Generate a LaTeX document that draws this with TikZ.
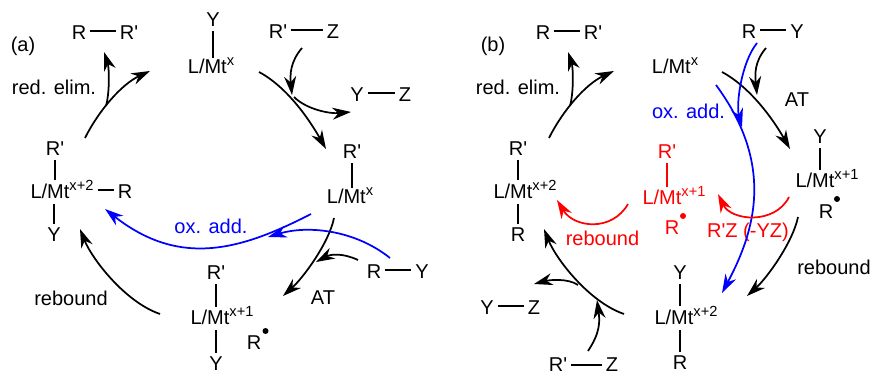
\documentclass[tikz,border=0pt]{standalone}
\usepackage{fontspec}
\setmainfont{Liberation Sans}
\usetikzlibrary{arrows.meta}
\definecolor{oxblue}{RGB}{0,0,255}
\definecolor{radred}{RGB}{255,0,0}
\newcommand{\Mt}[1]{L/Mt\raisebox{6pt}{\fontsize{11}{11}\selectfont #1}}
\newcommand{\Rp}{R\textquotesingle}
\tikzset{
arr/.style={-{Stealth[length=14pt,width=9pt,inset=4.5pt]},line width=1.3pt},
bond/.style={line width=1.1pt},
hbond/.style={bond,transform canvas={yshift=1.5pt}},
metal/.style={inner ysep=0pt,text depth=3.5pt},
raddot/.style={circle,fill,inner sep=0pt,minimum size=4.5pt,anchor=center}
}
\begin{document}
\begin{tikzpicture}[
x=0.75pt,y=-0.75pt,
every node/.style={
font=\fontsize{15}{17}\selectfont,
anchor=base,
inner sep=3pt
}
]
\useasboundingbox (0,0) rectangle (871,377);

% panel (a)
\node (alabel) at (23,52) {(a)};
\node (aRa) at (79,40) {R};
\node (aRb) at (129,40) {\Rp};
\node (aredelim) at (54,95) {red. elim.};

\node (aYtop) at (213,27) {Y};
\node[metal] (aMtTop) at (211,74) {\Mt{x}};

\node (aRZr) at (278,39) {\Rp};
\node (aRZz) at (333,39) {Z};
\node (aYZy) at (357,102) {Y};
\node (aYZz) at (405,102) {Z};

\node (aRright) at (352,159) {\Rp};
\node[metal] (aMtRight) at (350,204) {\Mt{x}};

\node (aRleft) at (55,156) {\Rp};
\node[metal] (aMtLeft) at (62,199) {\Mt{x+2}};
\node (aRmid) at (125,199) {R};
\node (aYleft) at (54,242) {Y};

\node (aRbot) at (216,280) {\Rp};
\node[metal] (aMtBot) at (222,325) {\Mt{x+1}};
\node (aYbot) at (216,371) {Y};
\node (aRrad) at (254,350) {R};
\node[raddot] (aRdot) at (265.5,331) {};

\node (aRYr) at (374,279) {R};
\node (aRYy) at (422,279) {Y};
\node (aAT) at (323,305) {AT};
\node (arebound) at (71,306) {rebound};
\node[text=oxblue] (aoxadd) at (211,234) {ox. add.};

\draw[hbond] (aRa) -- (aRb);
\draw[bond] (aYtop) -- (aYtop |- aMtTop.north);
\draw[hbond] (aRZr) -- (aRZz);
\draw[hbond] (aYZy) -- (aYZz);
\draw[bond] (aRright) -- (aRright |- aMtRight.north);
\draw[bond] (aRleft) -- (aRleft |- aMtLeft.north);
\draw[hbond] (aMtLeft.east |- aRmid) -- (aRmid);
\draw[bond] (aYleft |- aMtLeft.south) -- (aYleft);
\draw[bond] (aRbot) -- (aRbot |- aMtBot.north);
\draw[bond] (aYbot |- aMtBot.south) -- (aYbot);
\draw[hbond] (aRYr) -- (aRYy);

\coordinate (aA) at (85,138);
\coordinate (aB) at (150,71);
\coordinate (aC) at (106,106);
\coordinate (aD) at (104,52);
\coordinate (aE) at (259,72);
\coordinate (aF) at (326,149);
\coordinate (aG) at (302,48);
\coordinate (aH) at (292,95);
\coordinate (aI) at (294,97);
\coordinate (aJ) at (351,112);
\coordinate (aK) at (334,218);
\coordinate (aL) at (283,296);
\coordinate (aM) at (358,260);
\coordinate (aN) at (316,262);
\coordinate (aO) at (160,314);
\coordinate (aP) at (80,229);
\coordinate (aQ) at (311,214);
\coordinate (aS) at (105,209);
\coordinate (aT) at (390,258);
\coordinate (aU) at (268,237);

\draw[arr] (aA) .. controls +(14,-28) and +(-28,13) .. (aB);
\draw[arr] (aC) .. controls +(4,-15) and +(5,15) .. (aD);
\draw[arr] (aE) .. controls +(28,15) and +(-17,-30) .. (aF);
\draw[arr] (aG) .. controls +(-12,14) and +(-2,-20) .. (aH);
\draw[arr] (aI) .. controls +(12,12) and +(-22,2) .. (aJ);
\draw[arr] (aK) .. controls +(-5,25) and +(20,-18) .. (aL);
\draw[arr] (aM) .. controls +(-15,-7) and +(15,-8) .. (aN);
\draw[arr] (aO) .. controls +(-35,-12) and +(12,30) .. (aP);
\draw[arr,oxblue] (aQ) .. controls +(-70,36) and +(75,59) .. (aS);
\draw[arr,oxblue] (aT) .. controls +(-35,-28) and +(40,-12) .. (aU);

% panel (b)
\node (blabel) at (493,52) {(b)};
\node (bRa) at (543,40) {R};
\node (bRb) at (593,40) {\Rp};
\node (bredelim) at (518,95) {red. elim.};

\node[metal] (bMtTop) at (675,74) {\Mt{x}};
\node (bRYr) at (749,39) {R};
\node (bRYy) at (797,39) {Y};
\node (bAT) at (797,107) {AT};
\node[text=oxblue] (boxadd) at (688.5,119) {ox. add.};

\node (bYright) at (820,144) {Y};
\node[metal] (bMtRight) at (827,188) {\Mt{x+1}};
\node (bRrad) at (826,219) {R};
\node[raddot] (bRdot) at (837,199) {};
\node (brebound) at (834,275) {rebound};

\node[text=radred] (bRred) at (667,159) {\Rp};
\node[metal,text=radred] (bMtRed) at (674,205) {\Mt{x+1}};
\node[text=radred] (bRradred) at (672,235) {R};
\node[raddot,radred] (bRdotred) at (683,216) {};
\node[text=radred] (breboundred) at (602.5,246) {rebound};
\node[text=radred] (bRZred) at (748,238) {\Rp Z (-YZ)};

\node (bRleft) at (518,156) {\Rp};
\node[metal] (bMtLeft) at (525,199) {\Mt{x+2}};
\node (bRlow) at (518,242) {R};

\node (bYbot) at (680,280) {Y};
\node[metal] (bMtBot) at (686,325) {\Mt{x+2}};
\node (bRbot) at (680,370) {R};

\node (bYZy) at (487,315) {Y};
\node (bYZz) at (534,315) {Z};
\node (bRZr) at (558,372) {\Rp};
\node (bRZz) at (612,372) {Z};

\draw[hbond] (bRa) -- (bRb);
\draw[hbond] (bRYr) -- (bRYy);
\draw[bond] (bYright) -- (bYright |- bMtRight.north);
\draw[bond,radred] (bRred) -- (bRred |- bMtRed.north);
\draw[bond] (bRleft) -- (bRleft |- bMtLeft.north);
\draw[bond] (bRlow |- bMtLeft.south) -- (bRlow);
\draw[bond] (bYbot) -- (bYbot |- bMtBot.north);
\draw[bond] (bRbot |- bMtBot.south) -- (bRbot);
\draw[hbond] (bYZy) -- (bYZz);
\draw[bond] (bRZr) -- (bRZz);

\coordinate (bA) at (549,138);
\coordinate (bB) at (614,71);
\coordinate (bC) at (570,106);
\coordinate (bD) at (568,52);
\coordinate (bE) at (722,72);
\coordinate (bF) at (790,149);
\coordinate (bG) at (766,48);
\coordinate (bH) at (757,95);
\coordinate (bK) at (798,217);
\coordinate (bL) at (747,296);
\coordinate (bO) at (624,314);
\coordinate (bP) at (544,229);
\coordinate (bQ) at (578,285);
\coordinate (bS) at (534,284);
\coordinate (bT) at (588,351);
\coordinate (bU) at (597,300);
\coordinate (bV) at (757,43);
\coordinate (bW) at (742,127);
\coordinate (bX) at (716,85);
\coordinate (bY) at (722,293);
\coordinate (bZ) at (789,197);
\coordinate (bAa) at (718,194);
\coordinate (bAb) at (628,204);
\coordinate (bAc) at (557,200);

\draw[arr] (bA) .. controls +(14,-28) and +(-28,13) .. (bB);
\draw[arr] (bC) .. controls +(4,-15) and +(5,15) .. (bD);
\draw[arr] (bE) .. controls +(28,15) and +(-17,-30) .. (bF);
\draw[arr] (bG) .. controls +(-12,14) and +(-2,-20) .. (bH);
\draw[arr] (bK) .. controls +(-5,25) and +(20,-18) .. (bL);
\draw[arr] (bO) .. controls +(-35,-12) and +(12,30) .. (bP);
\draw[arr] (bQ) .. controls +(-10,-7) and +(15,-4) .. (bS);
\draw[arr] (bT) .. controls +(12,-18) and +(3,22) .. (bU);
\draw[arr,oxblue] (bV) .. controls +(-16,20) and +(-6,-22) .. (bW);
\draw[arr,oxblue] (bX) .. controls +(59,80) and +(33,-62) .. (bY);
\draw[arr,radred] (bZ) .. controls +(-14,28) and +(13,27) .. (bAa);
\draw[arr,radred] (bAb) .. controls +(-16,28) and +(17,28) .. (bAc);

\end{tikzpicture}
\end{document}
